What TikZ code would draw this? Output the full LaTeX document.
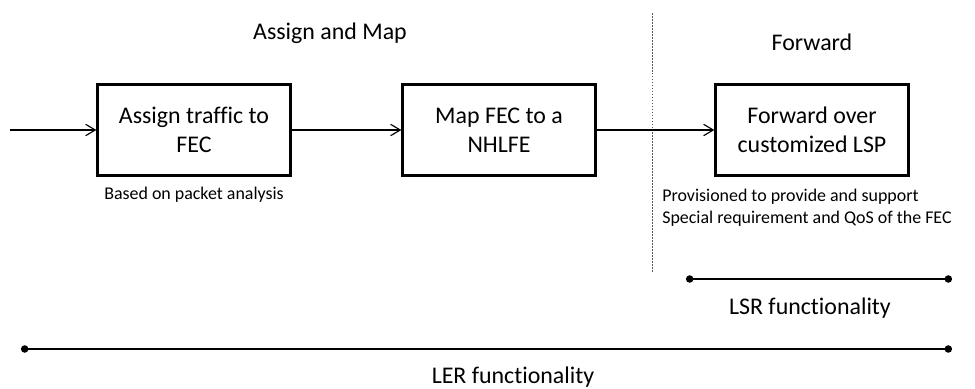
\documentclass[tikz,border=0pt]{standalone}
\usepackage{fontspec}
\setmainfont{Carlito}[Ligatures=NoCommon]
\usetikzlibrary{arrows.meta}

\tikzset{
  stage/.style={draw, line width=1.3pt, minimum width=3.86cm, minimum height=1.82cm,
    align=center, font=\fontsize{13.6}{16.6}\selectfont},
  caption/.style={font=\fontsize{13.6}{16.6}\selectfont, inner sep=0pt},
  note/.style={font=\fontsize{10.2}{12.5}\selectfont, inner sep=0pt, align=left},
  flow/.style={line width=0.65pt, -{Straight Barb[length=5.5pt,width=6.5pt]}},
  span/.style={line width=1pt, {Circle[length=4.2pt]}-{Circle[length=4.2pt]}},
}

\begin{document}
\begin{tikzpicture}[x=0.02cm,y=0.02cm]
\useasboundingbox (0,0) rectangle (975,-389);

% stage titles
\node[caption] (tmap) at (330,-33) {Assign and Map};
\node[caption] (tfwd) at (812,-42) {Forward};

% split between the two stages
\coordinate (sTop) at (652,-13);
\coordinate (sBot) at (652,-272);
\draw[gray!70!black, line width=0.5pt, dash pattern=on 1pt off 0.7pt] (sTop) -- (sBot);

% the three steps
\node[stage] (assign) at (194,-130) {Assign traffic to\\FEC};
\node[stage] (map) at (499,-130) {Map FEC to a\\NHLFE};
\node[stage] (fwd) at (812,-130) {Forward over\\customized LSP};

\coordinate (in) at (10,-130);
\draw[flow] (in) -- (assign);
\draw[flow] (assign) -- (map);
\draw[flow] (map) -- (fwd);

% notes under the boxes
\node[note] (nassign) at (194,-195) {Based on packet analysis};
\node[note, anchor=west] (nfwd) at (662,-208) {Provisioned to provide and support\\Special requirement and QoS of the FEC};

% functionality spans
\coordinate (lsrL) at (686,-279);
\coordinate (lsrR) at (952,-279);
\draw[span] (lsrL) -- (lsrR);
\node[caption] (lsr) at (810,-308) {LSR functionality};

\coordinate (lerL) at (21,-349);
\coordinate (lerR) at (952,-349);
\draw[span] (lerL) -- (lerR);
\node[caption] (ler) at (513,-377) {LER functionality};
\end{tikzpicture}
\end{document}
